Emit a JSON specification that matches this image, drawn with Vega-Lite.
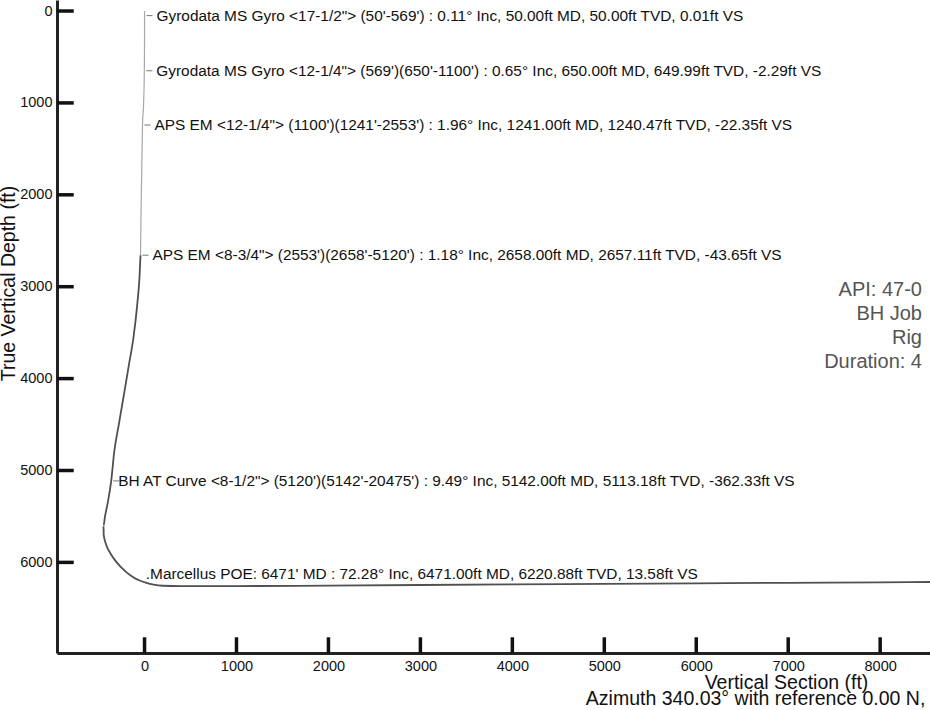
{
  "$schema": "https://vega.github.io/schema/vega-lite/v6.json",
  "width": 873,
  "height": 653,
  "autosize": {"type": "none"},
  "padding": {"left": 57, "top": 0, "right": 0, "bottom": 57},
  "background": "white",
  "config": {"view": {"stroke": null}, "font": "Liberation Sans"},
  "datasets": {
    "path": [
      {"i": 1, "part": "upper", "vs": 0, "tvd": 0},
      {"i": 2, "part": "upper", "vs": 0.01, "tvd": 50},
      {"i": 3, "part": "upper", "vs": 0, "tvd": 300},
      {"i": 4, "part": "upper", "vs": -2.29, "tvd": 649.99},
      {"i": 5, "part": "upper", "vs": -10, "tvd": 1000},
      {"i": 6, "part": "upper", "vs": -22.35, "tvd": 1240.47},
      {"i": 7, "part": "upper", "vs": -30, "tvd": 1700},
      {"i": 8, "part": "upper", "vs": -38, "tvd": 2200},
      {"i": 9, "part": "upper", "vs": -43.65, "tvd": 2657.11},
      {"i": 9, "part": "lower", "vs": -43.65, "tvd": 2657.11},
      {"i": 10, "part": "lower", "vs": -55, "tvd": 2900},
      {"i": 11, "part": "lower", "vs": -80, "tvd": 3200},
      {"i": 12, "part": "lower", "vs": -120, "tvd": 3550},
      {"i": 13, "part": "lower", "vs": -170, "tvd": 3850},
      {"i": 14, "part": "lower", "vs": -220, "tvd": 4150},
      {"i": 15, "part": "lower", "vs": -280, "tvd": 4500},
      {"i": 16, "part": "lower", "vs": -330, "tvd": 4800},
      {"i": 17, "part": "lower", "vs": -362.33, "tvd": 5113.18},
      {"i": 18, "part": "lower", "vs": -400, "tvd": 5350},
      {"i": 19, "part": "lower", "vs": -430, "tvd": 5500},
      {"i": 20, "part": "lower", "vs": -446, "tvd": 5600},
      {"i": 21, "part": "lower", "vs": -444, "tvd": 5700},
      {"i": 22, "part": "lower", "vs": -420, "tvd": 5800},
      {"i": 23, "part": "lower", "vs": -372, "tvd": 5900},
      {"i": 24, "part": "lower", "vs": -303, "tvd": 6000},
      {"i": 25, "part": "lower", "vs": -205, "tvd": 6100},
      {"i": 26, "part": "lower", "vs": -110, "tvd": 6170},
      {"i": 27, "part": "lower", "vs": 13.58, "tvd": 6220.88},
      {"i": 28, "part": "lower", "vs": 100, "tvd": 6243},
      {"i": 29, "part": "lower", "vs": 200, "tvd": 6254},
      {"i": 30, "part": "lower", "vs": 400, "tvd": 6258},
      {"i": 31, "part": "lower", "vs": 1000, "tvd": 6258},
      {"i": 32, "part": "lower", "vs": 2000, "tvd": 6252},
      {"i": 33, "part": "lower", "vs": 3000, "tvd": 6246},
      {"i": 34, "part": "lower", "vs": 4000, "tvd": 6240},
      {"i": 35, "part": "lower", "vs": 5000, "tvd": 6234},
      {"i": 36, "part": "lower", "vs": 6000, "tvd": 6228},
      {"i": 37, "part": "lower", "vs": 7000, "tvd": 6222},
      {"i": 38, "part": "lower", "vs": 8000, "tvd": 6217},
      {"i": 39, "part": "lower", "vs": 8600, "tvd": 6213}
    ],
    "labels": [
      {"kind": "survey", "vs": 0.01, "tvd": 50, "label": "Gyrodata MS Gyro <17-1/2\"> (50'-569') : 0.11° Inc, 50.00ft MD, 50.00ft TVD, 0.01ft VS"},
      {"kind": "survey", "vs": -2.29, "tvd": 649.99, "label": "Gyrodata MS Gyro <12-1/4\"> (569')(650'-1100') : 0.65° Inc, 650.00ft MD, 649.99ft TVD, -2.29ft VS"},
      {"kind": "survey", "vs": -22.35, "tvd": 1240.47, "label": "APS EM <12-1/4\"> (1100')(1241'-2553') : 1.96° Inc, 1241.00ft MD, 1240.47ft TVD, -22.35ft VS"},
      {"kind": "survey", "vs": -43.65, "tvd": 2657.11, "label": "APS EM <8-3/4\"> (2553')(2658'-5120') : 1.18° Inc, 2658.00ft MD, 2657.11ft TVD, -43.65ft VS"},
      {"kind": "curve", "vs": -362.33, "tvd": 5113.18, "label": "BH AT Curve <8-1/2\"> (5120')(5142'-20475') : 9.49° Inc, 5142.00ft MD, 5113.18ft TVD, -362.33ft VS"},
      {"kind": "target", "vs": 13.58, "tvd": 6220.88, "label": ".Marcellus POE: 6471' MD : 72.28° Inc, 6471.00ft MD, 6220.88ft TVD, 13.58ft VS"}
    ],
    "xticks": [{"v": 0}, {"v": 1000}, {"v": 2000}, {"v": 3000}, {"v": 4000}, {"v": 5000}, {"v": 6000}, {"v": 7000}, {"v": 8000}],
    "yticks": [{"v": 0}, {"v": 1000}, {"v": 2000}, {"v": 3000}, {"v": 4000}, {"v": 5000}, {"v": 6000}]
  },
  "layer": [
    {
      "data": {"name": "path"},
      "mark": {"type": "line", "interpolate": "monotone"},
      "encoding": {
        "x": {
          "field": "vs", "type": "quantitative",
          "scale": {"domain": [-952, 8542], "nice": false, "zero": false},
          "axis": {
            "orient": "bottom",
            "values": [0, 1000, 2000, 3000, 4000, 5000, 6000, 7000, 8000],
            "format": "d",
            "grid": false,
            "ticks": false,
            "domainColor": "#222", "domainWidth": 3,
            "labelPadding": 6, "labelFontSize": 14.5, "labelColor": "#111",
            "labelFont": "Liberation Sans", "labelFlush": false, "labelOverlap": false,
            "title": ["Vertical Section (ft)", "Azimuth 340.03° with reference 0.00 N, 0.00 E"],
            "titleFont": "Liberation Sans", "titleFontSize": 19.5, "titleFontWeight": "normal",
            "titleColor": "#111", "titleLineHeight": 16,
            "titleX": 729, "titleY": 35, "titleAlign": "center", "titleBaseline": "alphabetic"
          }
        },
        "y": {
          "field": "tvd", "type": "quantitative",
          "scale": {"domain": [-120, 6986], "nice": false, "zero": false, "reverse": true},
          "axis": {
            "orient": "left",
            "values": [0, 1000, 2000, 3000, 4000, 5000, 6000],
            "format": "d",
            "grid": false,
            "ticks": false,
            "domainColor": "#222", "domainWidth": 3,
            "labelPadding": 5, "labelFontSize": 14.5, "labelColor": "#111",
            "labelFont": "Liberation Sans", "labelFlush": false, "labelOverlap": false,
            "title": "True Vertical Depth (ft)",
            "titleFont": "Liberation Sans", "titleFontSize": 19.5, "titleFontWeight": "normal",
            "titleColor": "#111", "titleAngle": 270,
            "titleX": -43, "titleY": 283, "titleAlign": "center", "titleBaseline": "alphabetic"
          }
        },
        "order": {"field": "i", "type": "quantitative"},
        "detail": {"field": "part"},
        "color": {"field": "part", "type": "nominal", "scale": {"domain": ["upper", "lower"], "range": ["#a8a8a8", "#505050"]}, "legend": null},
        "strokeWidth": {"field": "part", "type": "nominal", "scale": {"domain": ["upper", "lower"], "range": [1.2, 1.8]}, "legend": null}
      }
    },
    {
      "data": {"name": "yticks"},
      "mark": {"type": "rule", "color": "#111", "strokeWidth": 3.5},
      "encoding": {
        "x": {"datum": -952, "type": "quantitative"},
        "x2": {"datum": -770},
        "y": {"field": "v", "type": "quantitative"}
      }
    },
    {
      "data": {"name": "xticks"},
      "mark": {"type": "rule", "color": "#111", "strokeWidth": 3.5},
      "encoding": {
        "x": {"field": "v", "type": "quantitative"},
        "y": {"datum": 6986, "type": "quantitative"},
        "y2": {"datum": 6815}
      }
    },
    {
      "data": {"name": "labels"},
      "transform": [{"filter": "datum.kind !== 'target'"}],
      "mark": {"type": "point", "shape": "stroke", "size": 36, "strokeWidth": 1, "color": "#777", "opacity": 1, "xOffset": 5},
      "encoding": {
        "x": {"field": "vs", "type": "quantitative"},
        "y": {"field": "tvd", "type": "quantitative"}
      }
    },
    {
      "data": {"name": "labels"},
      "transform": [{"filter": "datum.kind === 'survey'"}],
      "mark": {"type": "text", "align": "left", "baseline": "middle", "dx": 12, "fontSize": 15.4, "font": "Liberation Sans", "color": "#111"},
      "encoding": {
        "x": {"field": "vs", "type": "quantitative"},
        "y": {"field": "tvd", "type": "quantitative"},
        "text": {"field": "label"}
      }
    },
    {
      "data": {"name": "labels"},
      "transform": [{"filter": "datum.kind === 'curve'"}],
      "mark": {"type": "text", "align": "left", "baseline": "middle", "dx": 7, "fontSize": 15.4, "font": "Liberation Sans", "color": "#111"},
      "encoding": {
        "x": {"field": "vs", "type": "quantitative"},
        "y": {"field": "tvd", "type": "quantitative"},
        "text": {"field": "label"}
      }
    },
    {
      "data": {"name": "labels"},
      "transform": [{"filter": "datum.kind === 'target'"}],
      "mark": {"type": "text", "align": "left", "baseline": "alphabetic", "dx": 0, "dy": -4, "fontSize": 15.4, "font": "Liberation Sans", "color": "#111"},
      "encoding": {
        "x": {"field": "vs", "type": "quantitative"},
        "y": {"field": "tvd", "type": "quantitative"},
        "text": {"field": "label"}
      }
    },
    {
      "data": {"values": [{"info": "API: 47-0"}]},
      "mark": {"type": "text", "align": "right", "baseline": "middle", "dx": -8, "fontSize": 20, "lineHeight": 24, "font": "Liberation Sans", "color": "#555"},
      "encoding": {
        "x": {"datum": 8542, "type": "quantitative"},
        "y": {"datum": 3036, "type": "quantitative"},
        "text": {"value": ["API: 47-0", "BH Job", "Rig", "Duration: 4"]}
      }
    }
  ]
}
